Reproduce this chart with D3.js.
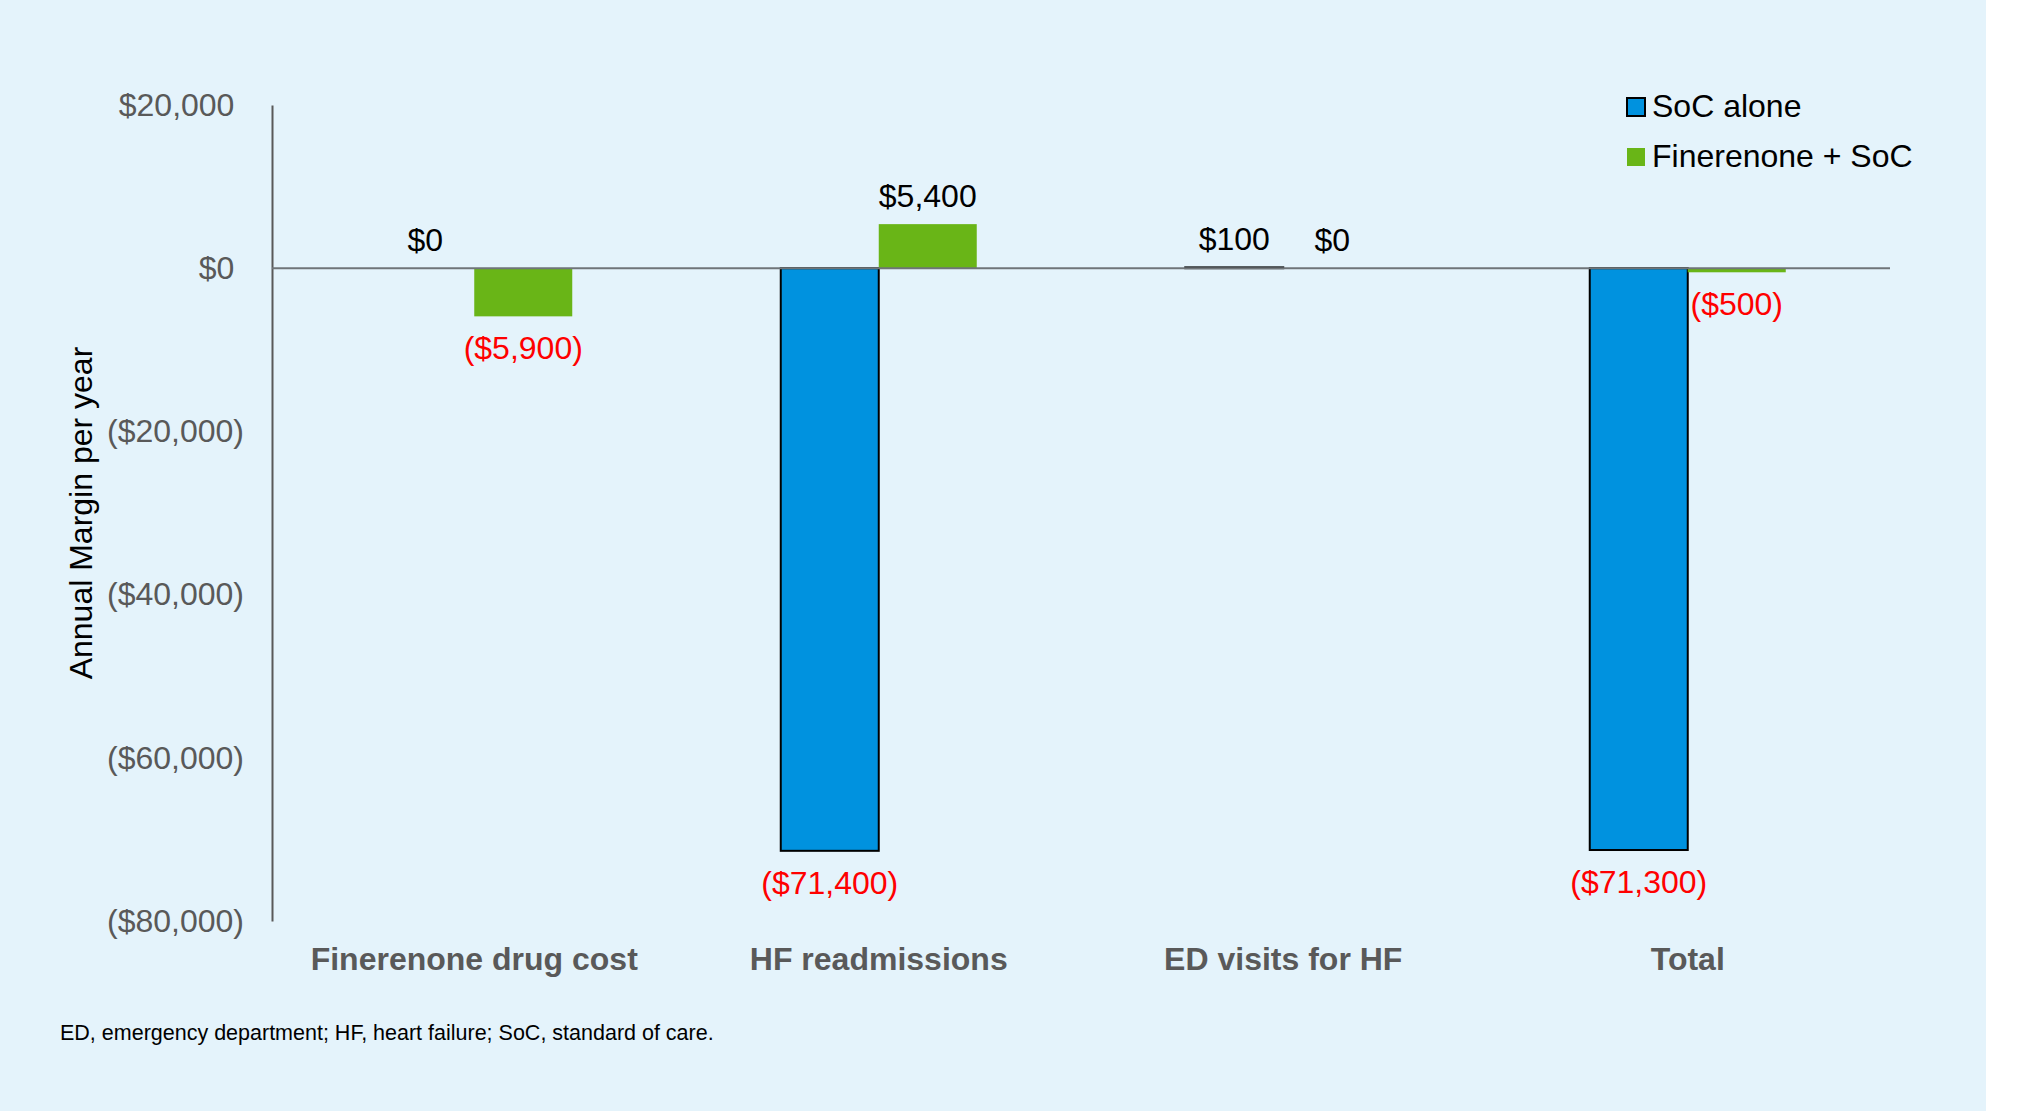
<!DOCTYPE html>
<html>
<head>
<meta charset="utf-8">
<script src="https://cdn.jsdelivr.net/npm/d3@7"></script>
<style>
    body { margin: 0; background: #ffffff; }
    svg { display: block; font-family: "Liberation Sans", Arial, sans-serif; }
</style>
</head>
<body>
<div id="chart"></div>
<script>
// Data
const categories = ["Finerenone drug cost", "HF readmissions", "ED visits for HF", "Total"];
const seriesNames = ["SoC alone", "Finerenone + SoC"];
const socAlone = [0, -71400, 100, -71300];
const finerenoneSoc = [-5900, 5400, 0, -500];
const yTicks = [20000, 0, -20000, -40000, -60000, -80000];
const footnote = "ED, emergency department; HF, heart failure; SoC, standard of care.";

function drawChart() {
    const width = 2032, height = 1111;
    const colors = ["#0092df", "#69b517"];
    const grey = "#595959";

    const svg = d3.select("#chart")
        .append("svg")
        .attr("width", width)
        .attr("height", height);

    // light blue slide background
    svg.append("rect")
        .attr("width", 1986)
        .attr("height", height)
        .attr("fill", "#e4f3fb");

    const x0 = d3.scaleBand()
        .domain(categories)
        .range([272, 1890]);

    const barW = 98;
    const x1 = d3.scaleBand()
        .domain(seriesNames)
        .range([-barW, barW]);

    const y = d3.scaleLinear()
        .domain([-80000, 20000])
        .range([921, 105]);

    const money = v => {
        const s = "$" + d3.format(",")(Math.abs(v));
        return v < 0 ? "(" + s + ")" : s;
    };

    // y axis
    const yAxis = svg.append("g")
        .attr("transform", "translate(272,0)")
        .call(d3.axisLeft(y).tickValues(yTicks).tickFormat(money).tickSize(0).tickSizeOuter(0).tickPadding(28));
    yAxis.select(".domain").attr("stroke", grey).attr("stroke-width", 2);
    yAxis.selectAll("text")
        .attr("fill", grey)
        .style("font-size", "32px")
        .style("font-family", "Liberation Sans, Arial, sans-serif")
        .attr("dx", d => d >= 0 ? "-0.3em" : 0);

    svg.append("text")
        .attr("transform", "translate(92,513) rotate(-90)")
        .attr("text-anchor", "middle")
        .style("font-size", "32px")
        .attr("fill", "#000")
        .text("Annual Margin per year");

    // bars
    const rows = categories.map((c, i) => ({
        cat: c,
        vals: [{ s: seriesNames[0], v: socAlone[i], k: 0 }, { s: seriesNames[1], v: finerenoneSoc[i], k: 1 }]
    }));

    const groups = svg.append("g").selectAll("g")
        .data(rows)
        .join("g")
        .attr("transform", d => "translate(" + (x0(d.cat) + x0.bandwidth() / 2) + ",0)");

    groups.selectAll("rect")
        .data(d => d.vals)
        .join("rect")
        .attr("x", d => x1(d.s))
        .attr("width", x1.bandwidth())
        .attr("y", d => y(Math.max(0, d.v)))
        .attr("height", d => Math.abs(y(d.v) - y(0)))
        .attr("fill", d => colors[d.k])
        .attr("stroke", d => d.k === 0 ? "#000" : "none")
        .attr("stroke-width", 2);

    // zero line
    svg.append("line")
        .attr("x1", 272).attr("x2", 1890)
        .attr("y1", y(0)).attr("y2", y(0))
        .attr("stroke", "#6f7478")
        .attr("stroke-width", 2);

    // data labels
    groups.selectAll("text")
        .data(d => d.vals)
        .join("text")
        .attr("x", d => x1(d.s) + x1.bandwidth() / 2)
        .attr("y", d => d.v < 0 ? y(d.v) + 43 : y(d.v) - 17)
        .attr("text-anchor", "middle")
        .style("font-size", "32px")
        .attr("fill", d => d.v < 0 ? "#ff0000" : "#000")
        .text(d => money(d.v));

    // category labels
    svg.append("g").selectAll("text")
        .data(categories)
        .join("text")
        .attr("x", d => x0(d) + x0.bandwidth() / 2)
        .attr("y", 970)
        .attr("text-anchor", "middle")
        .style("font-size", "32px")
        .style("font-weight", "bold")
        .attr("fill", grey)
        .text(d => d);

    // legend
    const legend = svg.append("g").selectAll("g")
        .data(seriesNames)
        .join("g")
        .attr("transform", (d, i) => "translate(1627," + (98 + i * 50) + ")");
    legend.append("rect")
        .attr("width", 18).attr("height", 18)
        .attr("fill", (d, i) => colors[i])
        .attr("stroke", (d, i) => i === 0 ? "#000" : "none")
        .attr("stroke-width", 2);
    legend.append("text")
        .attr("x", 25)
        .attr("y", 19)
        .style("font-size", "32px")
        .attr("fill", "#000")
        .text(d => d);

    svg.append("text")
        .attr("x", 60)
        .attr("y", 1040)
        .style("font-size", "21.5px")
        .attr("fill", "#000")
        .text(footnote);
}
drawChart();
</script>
</body>
</html>
